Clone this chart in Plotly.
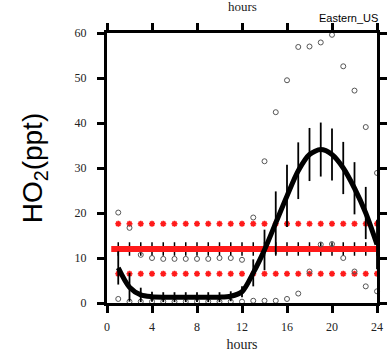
import plotly.graph_objects as go

hours = list(range(1, 25))

# model mean (black curve) and its spread
model_mean = [7.8, 3.5, 1.8, 1.4, 1.3, 1.3, 1.3, 1.3, 1.3, 1.3, 1.5, 2.5,
              6.7, 11.8, 17.8, 23.8, 29.4, 33.0, 34.1, 33.0, 30.0, 25.5, 20.0, 13.0]
model_err = [3.7, 3.2, 1.6, 1.1, 1.1, 1.1, 1.1, 1.1, 1.1, 1.1, 1.1, 1.2,
             3.0, 4.5, 7.0, 6.9, 6.3, 5.9, 6.0, 5.8, 5.8, 5.8, 5.8, 5.5]

# observed mean (red thick line) with error, and mean +/- std (red asterisks)
obs_mean = [12.0] * 24
obs_err = [1.5] * 24
obs_upper = [17.6] * 24
obs_lower = [6.5] * 24

# observation percentiles (gray circles)
obs_high = [20.1, 16.7, 10.7, 10.0, 9.8, 9.8, 9.8, 9.8, 9.8, 10.0, 10.0, 9.6,
            19.0, 31.5, 42.4, 49.5, 56.9, 57.0, 57.9, 59.6, 52.6, 47.2, 39.1, 28.9]
obs_low = [0.9, 0.3, 0.3, 0.3, 0.3, 0.3, 0.3, 0.3, 0.3, 0.3, 0.3, 0.3,
           0.5, 0.5, 0.5, 0.9, 2.1, 7.0, 13.0, 13.1, 10.0, 7.0, 3.7, 2.6]

x_ticks = [0, 4, 8, 12, 16, 20, 24]
y_ticks = [0, 10, 20, 30, 40, 50, 60]

fig = go.Figure()

red = "#ff1a1a"
for series in (obs_upper, obs_lower):
    fig.add_trace(go.Scatter(
        x=hours, y=series, mode="markers",
        marker=dict(symbol="asterisk-open", size=5, color=red,
                    line=dict(color=red, width=1.6)),
        showlegend=False, hoverinfo="skip"))

fig.add_trace(go.Scatter(
    x=hours, y=obs_mean, mode="lines+markers",
    line=dict(color=red, width=6),
    marker=dict(symbol="line-ew-open", size=10, color=red,
                line=dict(color=red, width=6)),
    error_y=dict(type="data", array=obs_err, color="black", thickness=1.5, width=0),
    showlegend=False, hoverinfo="skip"))

for series in (obs_high, obs_low):
    fig.add_trace(go.Scatter(
        x=hours, y=series, mode="markers",
        marker=dict(symbol="circle-open", size=5, color="#555555",
                    line=dict(color="#555555", width=1)),
        showlegend=False, hoverinfo="skip", cliponaxis=False))

fig.add_trace(go.Scatter(
    x=hours, y=model_mean, mode="lines",
    line=dict(color="black", width=5, shape="spline", smoothing=0.8),
    error_y=dict(type="data", array=model_err, color="black", thickness=1.8, width=0),
    showlegend=False, hoverinfo="skip"))

axis_common = dict(
    showline=True, linecolor="black", linewidth=3, mirror="ticks",
    ticks="outside", ticklen=7, tickwidth=3, tickcolor="black",
    showgrid=False, zeroline=False, automargin=False,
    tickfont=dict(family="Liberation Serif", size=12, color="#222222"),
)

fig.update_xaxes(range=[0, 24], tickvals=x_ticks, ticklabelstandoff=4,
                 title=dict(text="hours", font=dict(family="Liberation Serif", size=14, color="#222222"),
                            standoff=6),
                 **axis_common)
fig.update_yaxes(range=[0, 60], tickvals=y_ticks, ticklabelstandoff=8,
                 title=dict(text="HO<sub>2</sub>(ppt)", font=dict(family="Liberation Sans", size=28, color="black"),
                            standoff=24),
                 **axis_common)

fig.add_annotation(text="Eastern_US", xref="paper", yref="paper", x=1.0, y=1.0,
                   xanchor="right", yanchor="bottom", yshift=7, xshift=3, showarrow=False,
                   font=dict(family="Liberation Sans", size=11, color="black"))
fig.add_annotation(text="hours", xref="paper", yref="paper", x=0.5, y=1.0,
                   xanchor="center", yanchor="top", yshift=36, showarrow=False,
                   font=dict(family="Liberation Serif", size=13, color="#222222"))

fig.update_layout(
    width=390, height=354,
    margin=dict(l=107, r=13, t=33, b=51),
    plot_bgcolor="white", paper_bgcolor="white",
)

fig.write_html("out.html", config={"displayModeBar": False},
               post_script="document.body.style.margin='0';")
